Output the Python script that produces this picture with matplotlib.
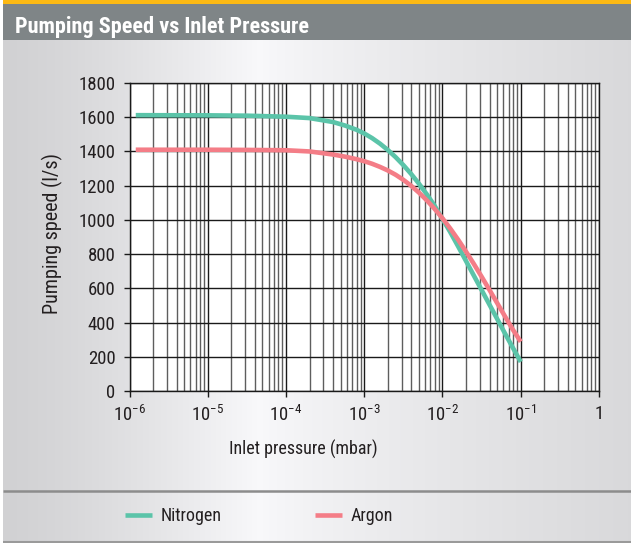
import numpy as np
import matplotlib
matplotlib.use("Agg")
import matplotlib.pyplot as plt
from matplotlib.patches import Rectangle
from matplotlib.ticker import FixedLocator, FixedFormatter, LogLocator, NullFormatter

# --- data (log10 of inlet pressure, pumping speed l/s)
nitrogen_logp = [-5.92, -5.0, -4.5, -4.0, -3.7, -3.4, -3.25, -3.1, -3.0, -2.9, -2.8,
                 -2.7, -2.6, -2.5, -2.4, -2.3, -2.2, -2.1, -2.0, -1.9, -1.8, -1.7,
                 -1.6, -1.5, -1.4, -1.3, -1.2, -1.1, -1.0]
nitrogen_speed = [1612, 1611, 1609, 1603, 1595, 1572, 1552, 1527, 1505, 1478, 1446,
                  1409, 1367, 1320, 1268, 1211, 1149, 1082, 1005, 928, 845, 760,
                  675, 590, 505, 420, 335, 252, 170]
argon_logp = [-5.92, -5.0, -4.5, -4.0, -3.7, -3.4, -3.25, -3.1, -3.0, -2.9, -2.8,
              -2.7, -2.6, -2.5, -2.4, -2.3, -2.2, -2.1, -2.0, -1.9, -1.8, -1.7,
              -1.6, -1.5, -1.4, -1.3, -1.2, -1.1, -1.0]
argon_speed = [1410, 1410, 1409, 1407, 1400, 1382, 1370, 1355, 1343, 1328, 1310,
               1289, 1264, 1234, 1199, 1159, 1114, 1064, 1009, 949, 884, 815,
               743, 668, 591, 513, 435, 358, 288]

x_ticks = [1e-6, 1e-5, 1e-4, 1e-3, 1e-2, 1e-1, 1]
x_ticklabels = [r"$\mathregular{10^{-6}}$", r"$\mathregular{10^{-5}}$", r"$\mathregular{10^{-4}}$",
                r"$\mathregular{10^{-3}}$", r"$\mathregular{10^{-2}}$", r"$\mathregular{10^{-1}}$", "1"]
y_ticks = [0, 200, 400, 600, 800, 1000, 1200, 1400, 1600, 1800]

GREEN = "#5bc4a9"
PINK = "#f47d87"
TXT = "#231f20"

plt.rcParams["font.family"] = ["Roboto Condensed", "Roboto", "DejaVu Sans"]
plt.rcParams["mathtext.fontset"] = "custom"
plt.rcParams["mathtext.rm"] = "Roboto Condensed"

W, H = 631, 543
fig = plt.figure(figsize=(W / 100, H / 100), dpi=100)
fig.patch.set_facecolor("white")

# background layer in pixel coords
bg = fig.add_axes([0, 0, 1, 1], zorder=-5)
bg.set_xlim(0, W)
bg.set_ylim(H, 0)
bg.axis("off")

xs = np.arange(W)
left_c, peak_c, right_c = 0.82, 0.975, 0.85
peak_x = 258
shade = np.where(xs < peak_x,
                 left_c + (peak_c - left_c) * (xs / peak_x) ** 1.3,
                 peak_c + (right_c - peak_c) * ((xs - peak_x) / (W - peak_x)) ** 0.8)
grad = np.tile(shade, (2, 1))
bg.imshow(np.dstack([grad, grad, grad + 0.008]).clip(0, 1), extent=(3, W, 541, 40),
          aspect="auto", interpolation="bilinear")

bg.add_patch(Rectangle((3, 0), W, 4, color="#fdb913", lw=0))
bg.add_patch(Rectangle((3, 4), W, 36, color="#7f8587", lw=0))
bg.plot([3, W], [490.5, 490.5], color="#8c8c8c", lw=1.8, solid_capstyle="butt")
bg.plot([3, W], [541.5, 541.5], color="#9a9a9a", lw=1.5, solid_capstyle="butt")
bg.text(15, 33, "Pumping Speed vs Inlet Pressure", color="white", fontsize=16,
        fontweight="bold", va="baseline", ha="left")
bg.text(303, 449, "Inlet pressure (mbar)", color=TXT, fontsize=13, ha="center", va="center")
bg.text(52, 233, "Pumping speed (l/s)", color=TXT, fontsize=14.5, ha="center", va="center",
        rotation=90)

# main chart
ax = fig.add_axes([129.5 / W, 1 - 391 / H, (599 - 129.5) / W, (391 - 83) / H])
ax.set_facecolor("white")
ax.set_xscale("log")
ax.set_xlim(1e-6, 1)
ax.set_ylim(0, 1800)

ax.xaxis.set_major_locator(FixedLocator(x_ticks))
ax.xaxis.set_major_formatter(FixedFormatter(x_ticklabels))
ax.xaxis.set_minor_locator(LogLocator(base=10, subs=np.arange(2, 10)))
ax.xaxis.set_minor_formatter(NullFormatter())
ax.set_yticks(y_ticks)

ax.grid(which="major", axis="both", color="#1a1a1a", lw=1.0)
ax.grid(which="minor", axis="x", color="#5e5e5e", lw=1.0)
ax.set_axisbelow(True)
for s in ax.spines.values():
    s.set_color("#1a1a1a")
    s.set_linewidth(1.0)

ax.tick_params(axis="both", which="major", direction="out", length=4, width=1,
               color="#1a1a1a", labelcolor=TXT, labelsize=13.5)
ax.tick_params(axis="y", pad=6)
ax.tick_params(axis="x", pad=6)
ax.tick_params(axis="x", which="minor", length=0)

ax.plot(10 ** np.array(nitrogen_logp), nitrogen_speed, color=GREEN, lw=3.3,
        label="Nitrogen", solid_capstyle="butt")
ax.plot(10 ** np.array(argon_logp), argon_speed, color=PINK, lw=3.3,
        label="Argon", solid_capstyle="butt")

handles, labels = ax.get_legend_handles_labels()
for h, lab, x0 in zip(handles, labels, [125, 315]):
    fig.legend([h], [lab], loc="center left", bbox_to_anchor=(x0 / W, 1 - 516 / H),
               frameon=False, fontsize=13, handlelength=1.5, handletextpad=0.45,
               borderpad=0, borderaxespad=0, labelcolor=TXT)

fig.savefig("out.png", dpi=100)
